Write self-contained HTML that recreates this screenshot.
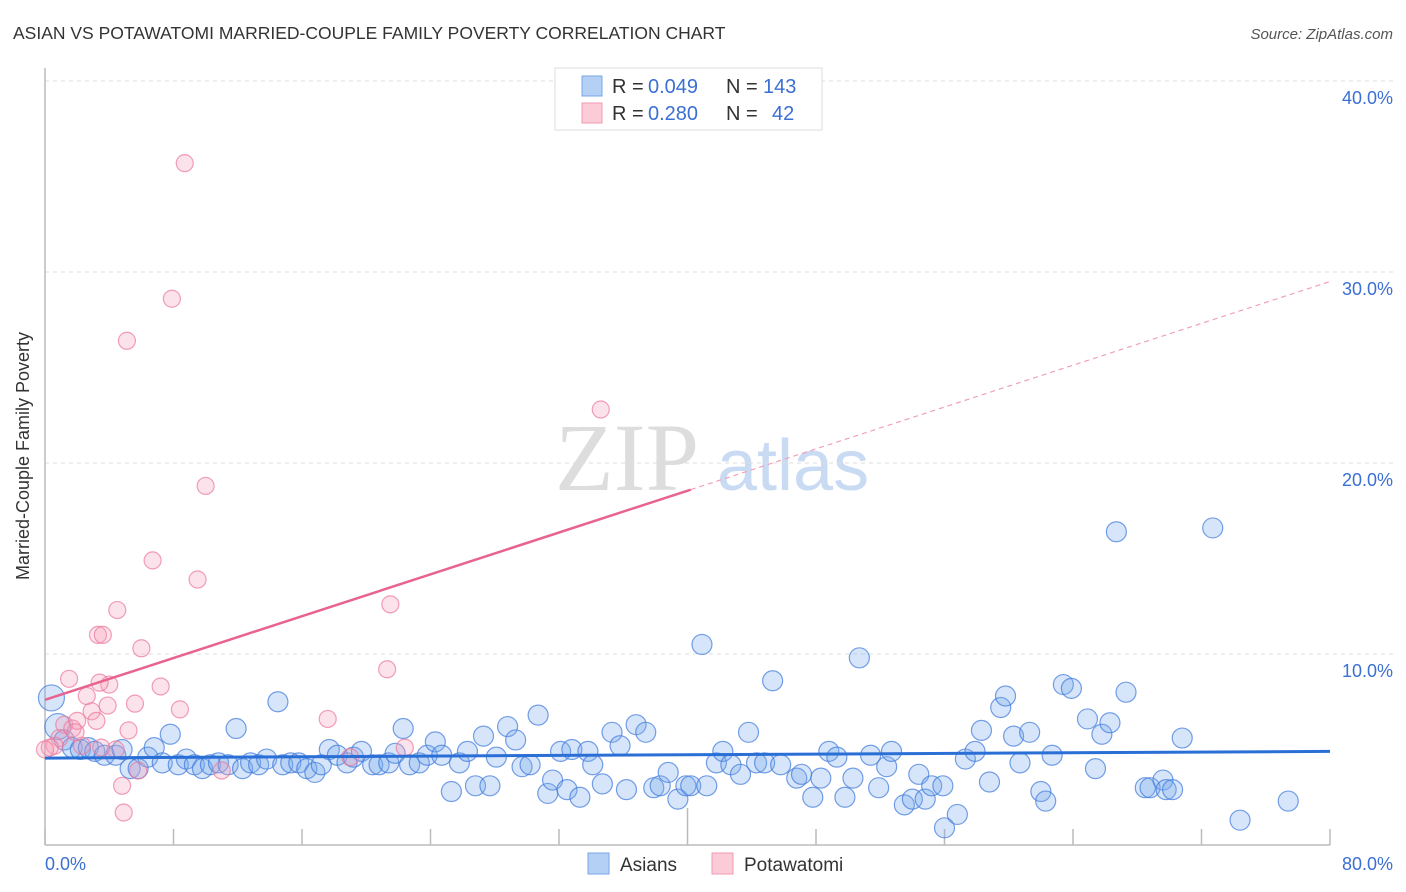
<!DOCTYPE html>
<html><head><meta charset="utf-8"><style>
body{margin:0;background:#fff;font-family:"Liberation Sans",sans-serif}
svg{display:block}
</style></head><body>
<svg id="c" width="1406" height="892" xmlns="http://www.w3.org/2000/svg">
<text x="13" y="39" font-size="17.5" fill="#333">ASIAN VS POTAWATOMI MARRIED-COUPLE FAMILY POVERTY CORRELATION CHART</text>
<text x="1393" y="39" font-size="15" fill="#555" text-anchor="end" font-style="italic">Source: ZipAtlas.com</text>
<text x="29" y="456" font-size="18" fill="#333" text-anchor="middle" transform="rotate(-90 29 456)">Married-Couple Family Poverty</text>
<g><text x="555" y="490" font-size="96" fill="#ddd" font-family="Liberation Serif,serif">ZIP</text><text x="717" y="490" font-size="72" fill="#c9daf3">atlas</text></g>
<g id="grid"></g><g id="axes"></g><g id="pts"></g><g id="lines"></g>
<g>
<rect x="555" y="68" width="267" height="62" fill="#fff" stroke="#ddd"/>
<rect x="582" y="76" width="20" height="20" fill="#b5d0f5" stroke="#7aa6e8"/>
<rect x="582" y="103" width="20" height="20" fill="#fbcbd8" stroke="#f29bb4"/>
<text y="93" font-size="20" fill="#333"><tspan x="612">R = </tspan><tspan x="648" fill="#3b6fd4">0.049</tspan><tspan x="726">N = </tspan><tspan x="763" fill="#3b6fd4">143</tspan></text>
<text y="120" font-size="20" fill="#333"><tspan x="612">R = </tspan><tspan x="648" fill="#3b6fd4">0.280</tspan><tspan x="726">N = </tspan><tspan x="772" fill="#3b6fd4">42</tspan></text>
</g>
<g>
<rect x="588" y="853" width="21" height="21" fill="#b5d0f5" stroke="#7aa6e8"/>
<text x="620" y="871" font-size="19" fill="#333">Asians</text>
<rect x="712" y="853" width="21" height="21" fill="#fbcbd8" stroke="#f29bb4"/>
<text x="744" y="871" font-size="19" fill="#333">Potawatomi</text>
</g>
</svg>
<script>
const yTicks=[10,20,30,40];
const yTickLabels=["10.0%","20.0%","30.0%","40.0%"];
const xTickLabels=["0.0%","80.0%"];
const asianX=[0.4,0.8,1.2,1.7,2.2,2.7,3.1,3.7,4.4,4.8,5.3,5.8,6.4,6.8,7.3,7.8,8.3,8.8,9.3,9.8,10.3,10.8,11.4,11.9,12.3,12.8,13.3,13.8,14.5,14.8,15.3,15.8,16.3,16.8,17.2,17.7,18.2,18.8,19.2,19.7,20.4,20.8,21.4,21.8,22.3,22.7,23.3,23.8,24.3,24.7,25.3,25.8,26.3,26.8,27.3,27.7,28.1,28.8,29.3,29.7,30.2,30.7,31.3,31.6,32.1,32.5,32.8,33.3,33.8,34.1,34.7,35.3,35.8,36.2,36.8,37.4,37.9,38.3,38.8,39.4,39.9,40.2,40.9,41.2,41.8,42.2,42.7,43.3,43.8,44.3,44.8,45.3,45.8,46.8,47.1,47.8,48.3,48.8,49.3,49.8,50.3,50.7,51.4,51.9,52.4,52.7,54.4,53.5,54.0,54.8,55.2,55.9,56.0,56.8,57.3,57.9,58.3,58.8,59.5,59.8,60.3,60.7,61.3,62.0,62.3,62.7,63.4,63.9,64.9,65.4,65.8,66.3,66.7,67.3,68.5,68.8,69.6,69.8,70.2,70.8,72.7,74.4,77.4];
const asianY=[7.7,6.2,5.5,5.1,5.0,5.1,4.9,4.7,4.7,5.0,4.0,4.0,4.6,5.1,4.3,5.8,4.2,4.5,4.2,4.0,4.2,4.3,4.2,6.1,4.0,4.3,4.2,4.5,7.5,4.2,4.3,4.3,4.0,3.8,4.2,5.0,4.7,4.3,4.6,4.9,4.2,4.2,4.3,4.8,6.1,4.2,4.3,4.7,5.4,4.7,2.8,4.3,4.9,3.1,5.7,3.1,4.6,6.2,5.5,4.1,4.2,6.8,2.7,3.4,4.9,2.9,5.0,2.5,4.9,4.2,3.2,5.9,5.2,2.9,6.3,5.9,3.0,3.1,3.8,2.4,3.1,3.1,10.5,3.1,4.3,4.9,4.2,3.7,5.9,4.3,4.3,8.6,4.2,3.5,3.7,2.5,3.5,4.9,4.6,2.5,3.5,9.8,4.7,3.0,4.1,4.9,3.7,2.1,2.4,2.4,3.1,3.1,0.9,1.6,4.5,4.9,6.0,3.3,7.2,7.8,5.7,4.3,5.9,2.8,2.3,4.7,8.4,8.2,6.6,4.0,5.8,6.4,16.4,8.0,3.0,3.0,3.4,2.9,2.9,5.6,16.6,1.3,2.3];
const potaX=[8.7,7.9,5.1,10.0,34.6,6.7,9.5,21.5,4.5,3.3,3.6,6.0,21.3,1.5,4.0,3.4,7.2,2.6,2.9,3.9,5.6,8.4,17.6,5.2,1.2,1.7,0.9,0.6,0.3,2.3,4.4,22.4,19.0,5.8,11.0,4.8,4.9,3.2,2.0,3.5,0.0,1.9];
const potaY=[35.7,28.6,26.4,18.8,22.8,14.9,13.9,12.6,12.3,11.0,11.0,10.3,9.2,8.7,8.4,8.5,8.3,7.8,7.0,7.3,7.4,7.1,6.6,6.0,6.3,6.1,5.6,5.2,5.1,5.2,5.0,5.1,4.6,3.9,3.9,3.1,1.7,6.5,6.5,5.1,5.0,5.9];
const asianTrend=[4.55,4.9];
const potaTrend=[7.6,29.5];
const trendSolidEnd=40.2;

const X0=45,X1=1330,Y0=845,PPY=19.1;
const sx=v=>X0+v/80*(X1-X0);
const sy=v=>Y0-v*PPY;
const NS="http://www.w3.org/2000/svg";
function mk(tag,attrs,parent){const e=document.createElementNS(NS,tag);for(const k in attrs)e.setAttribute(k,attrs[k]);parent.appendChild(e);return e;}
const grid=document.getElementById('grid'),axes=document.getElementById('axes'),pts=document.getElementById('pts'),lines=document.getElementById('lines');
yTicks.forEach((t,i)=>{
  const g=mk('line',{x1:X0,x2:1395,y1:sy(t),y2:sy(t),stroke:'#ddd','stroke-dasharray':'4,4'},grid);
  
  
  const l=mk('text',{x:1393,y:sy(t)+23,'font-size':18,fill:'#3b6fd4','text-anchor':'end'},axes);
  l.textContent=yTickLabels[i];
  
  
});
const ax=mk('line',{x1:X0,x2:X1+0,y1:Y0,y2:Y0,stroke:'#bbb','stroke-width':1.5},axes);


const ay=mk('line',{x1:X0,x2:X0,y1:68,y2:Y0,stroke:'#bbb','stroke-width':1.5},axes);


for(let i=0;i<=10;i++){
  const t=mk('line',{x1:sx(i*8),x2:sx(i*8),y1:i==5?808:829,y2:Y0,stroke:'#bbb','stroke-width':1.5},axes);
  
  
}
const xl0=mk('text',{x:45,y:870,'font-size':18,fill:'#3b6fd4'},axes);xl0.textContent=xTickLabels[0];


const xl1=mk('text',{x:1393,y:870,'font-size':18,fill:'#3b6fd4','text-anchor':'end'},axes);xl1.textContent=xTickLabels[1];


asianX.forEach((x,i)=>{
  const r=i<2?13:10;
  const c=mk('circle',{cx:sx(x),cy:sy(asianY[i]),r:r,fill:'rgba(120,170,235,0.3)',stroke:'rgba(60,120,220,0.7)','stroke-width':1.2},pts);
  
  
});
potaX.forEach((x,i)=>{
  const c=mk('circle',{cx:sx(x),cy:sy(potaY[i]),r:8.5,fill:'rgba(245,160,185,0.3)',stroke:'rgba(235,120,155,0.7)','stroke-width':1.2},pts);
  
  
});
const bt=mk('line',{x1:sx(0),x2:sx(80),y1:sy(asianTrend[0]),y2:sy(asianTrend[1]),stroke:'#2a6fd6','stroke-width':3},lines);


const pv=x=>potaTrend[0]+(potaTrend[1]-potaTrend[0])*x/80;
const pt=mk('line',{x1:sx(0),x2:sx(trendSolidEnd),y1:sy(pv(0)),y2:sy(pv(trendSolidEnd)),stroke:'#e8638f','stroke-width':2.5},lines);


const pd=mk('line',{x1:sx(trendSolidEnd),x2:sx(80),y1:sy(pv(trendSolidEnd)),y2:sy(pv(80)),stroke:'#f0a0b8','stroke-width':1.2,'stroke-dasharray':'5,4'},lines);


</script>
</body></html>
